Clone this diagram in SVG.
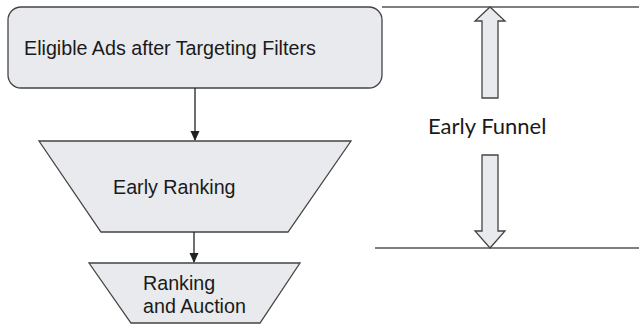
<svg xmlns="http://www.w3.org/2000/svg" width="639" height="326" viewBox="0 0 639 326">
<style>
.shape{fill:#e8eaed;stroke:#444;stroke-width:1.3}
.lbl{font-family:"Liberation Sans",Arial,sans-serif;font-size:19.7px;fill:#1a1a1a}
.conn{stroke:#222;stroke-width:1.3;fill:none}
.rule{stroke:#555;stroke-width:1.3;fill:none}
</style>
<defs>
<marker id="ah" markerWidth="10" markerHeight="10" refX="9" refY="5" orient="auto" markerUnits="userSpaceOnUse">
<path d="M0,0.5 L10,5 L0,9.5 Z" fill="#222"/>
</marker>
</defs>
<rect width="639" height="326" fill="#fff"/>
<g id="rules">
<line class="rule" x1="382" y1="7" x2="639" y2="7"/>
<line class="rule" x1="375" y1="248" x2="639" y2="248"/>
</g>
<g id="node-eligible">
<rect class="shape" x="8" y="7" width="374" height="81" rx="13" ry="13"/>
<text class="lbl" x="24" y="55">Eligible Ads after Targeting Filters</text>
</g>
<g id="node-early-ranking">
<polygon class="shape" points="39,141 351,141 288,232 101,232"/>
<text class="lbl" x="113" y="194">Early Ranking</text>
</g>
<g id="node-ranking-auction">
<polygon class="shape" points="89,263 300,263 260,323 131,323"/>
<text class="lbl" x="143" y="290">Ranking</text>
<text class="lbl" x="143" y="313">and Auction</text>
</g>
<g id="node-early-funnel">
<polygon class="shape" points="490,7 505,21 498,21 498,98 482,98 482,21 475,21"/>
<text x="428" y="134" style="font-family:Lato,sans-serif;font-size:22px;fill:#1a1a1a">Early Funnel</text>
<polygon class="shape" points="490,248 505,231 498,231 498,155 482,155 482,231 475,231"/>
</g>
<g id="connectors">
<line class="conn" x1="195" y1="88" x2="195" y2="140" marker-end="url(#ah)"/>
<line class="conn" x1="194" y1="232" x2="194" y2="262" marker-end="url(#ah)"/>
</g>
</svg>
